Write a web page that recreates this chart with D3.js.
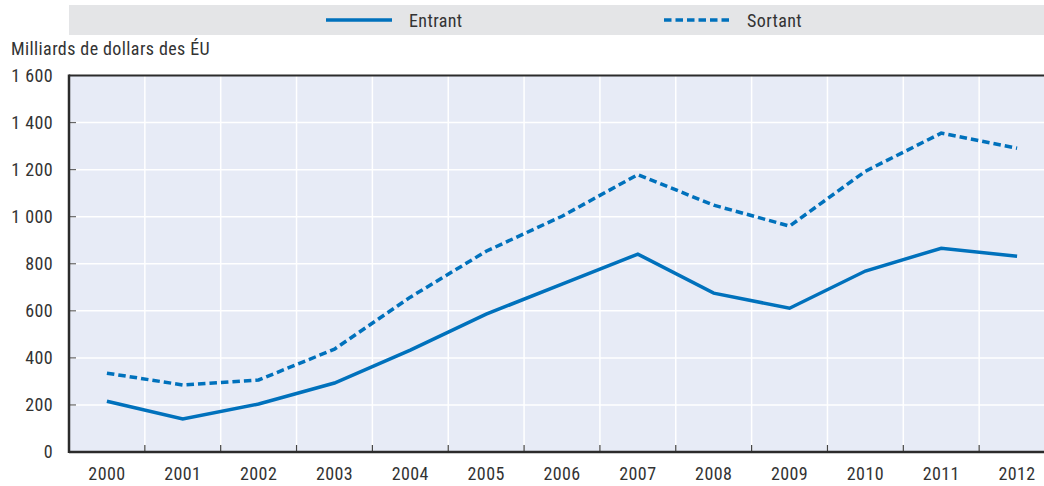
<!DOCTYPE html>
<html><head><meta charset="utf-8">
<script src="https://cdn.jsdelivr.net/npm/d3@7"></script>
<style>
html,body{margin:0;padding:0;background:#fff;}
svg{display:block;font-family:"Liberation Sans Narrow","Arial Narrow","Roboto Condensed","Liberation Sans",sans-serif;}
svg text{letter-spacing:0.4px;}
</style></head><body>
<svg id="chart" width="1044" height="486"></svg>
<script>
const years = ["2000","2001","2002","2003","2004","2005","2006","2007","2008","2009","2010","2011","2012"];
const entrant = [216,140,204,293,433,586,713,841,675,611,769,866,832];
const sortant = [335,285,306,437,658,853,1002,1179,1049,960,1193,1355,1291];
const yTicks = [0,200,400,600,800,1000,1200,1400,1600];
const yTickLabels = ["0","200","400","600","800","1 000","1 200","1 400","1 600"];
const seriesNames = ["Entrant","Sortant"];
const yTitle = "Milliards de dollars des ÉU";

(function(){
const W = 1044;
const pL = 69, pR = 1055, pT = 75.5, pB = 452;
const color = "#0071bc";
const txt = "#333";
const fs = 18;
const svg = d3.select("#chart");

const x = d3.scaleBand().domain(years).range([pL, pR]).padding(0);
const y = d3.scaleLinear().domain([0,1600]).range([pB, pT]);

// legend
svg.append("rect").attr("x",69).attr("y",5).attr("width",W-69).attr("height",30).attr("fill","#e4e5e7");
const legItems = [{name:seriesNames[0], x1:326, dash:null},{name:seriesNames[1], x1:664, dash:"7.5,4"}];
legItems.forEach(d=>{
  svg.append("line").attr("x1",d.x1).attr("x2",d.x1+66).attr("y1",20).attr("y2",20)
    .attr("stroke",color).attr("stroke-width",3.5).attr("stroke-dasharray",d.dash);
  svg.append("text").attr("x",d.x1+83).attr("y",26.5).attr("font-size",fs).attr("fill",txt).text(d.name);
});

// plot background
svg.append("rect").attr("x",pL).attr("y",pT).attr("width",W-pL).attr("height",pB-pT).attr("fill","#e7ebf6");

// horizontal grid
svg.append("g").selectAll("line").data(yTicks.slice(1,-1)).join("line")
  .attr("x1",pL).attr("x2",W).attr("y1",d=>y(d)).attr("y2",d=>y(d))
  .attr("stroke","#fff").attr("stroke-width",1.5);
// vertical grid
svg.append("g").selectAll("line").data(years.slice(1)).join("line")
  .attr("x1",d=>x(d)).attr("x2",d=>x(d)).attr("y1",pT).attr("y2",pB)
  .attr("stroke","#fff").attr("stroke-width",1.5);

// y axis
const yAxis = d3.axisLeft(y).tickValues(yTicks).tickFormat((d,i)=>yTickLabels[i]).tickSize(0).tickPadding(16);
const ga = svg.append("g").attr("transform",`translate(${pL},0)`).call(yAxis);
ga.select(".domain").remove();
ga.attr("font-family",null).attr("font-size",null);
ga.selectAll("text").attr("font-size",fs).attr("fill",txt);
svg.append("g").selectAll("line").data(yTicks.slice(1,-1)).join("line")
  .attr("x1",pL).attr("x2",pL+7).attr("y1",d=>y(d)).attr("y2",d=>y(d))
  .attr("stroke","#666").attr("stroke-width",1.2);

// x axis
const xAxis = d3.axisBottom(x).tickSize(0).tickPadding(15);
const gx = svg.append("g").attr("transform",`translate(0,${pB})`).call(xAxis);
gx.select(".domain").remove();
gx.attr("font-family",null).attr("font-size",null);
gx.selectAll("text").attr("font-size",fs).attr("fill",txt);
svg.append("g").selectAll("line").data(years.slice(1)).join("line")
  .attr("x1",d=>x(d)).attr("x2",d=>x(d)).attr("y1",pB).attr("y2",pB-7)
  .attr("stroke","#444").attr("stroke-width",1.2);

// frame lines
svg.append("line").attr("x1",pL).attr("x2",W).attr("y1",pT).attr("y2",pT).attr("stroke","#2b2b2b").attr("stroke-width",2);
svg.append("line").attr("x1",pL).attr("x2",W).attr("y1",pB).attr("y2",pB).attr("stroke","#2b2b2b").attr("stroke-width",2.5);
svg.append("line").attr("x1",pL).attr("x2",pL).attr("y1",pT-1).attr("y2",pB+1).attr("stroke","#2b2b2b").attr("stroke-width",2.5);

// y title
svg.append("text").attr("x",11).attr("y",55).attr("font-size",fs).attr("fill",txt).text(yTitle);

// lines
const line = d3.line().x((d,i)=>x(years[i])+x.bandwidth()/2).y(d=>y(d));
svg.append("path").datum(entrant).attr("d",line).attr("fill","none").attr("stroke",color).attr("stroke-width",3.5);
svg.append("path").datum(sortant).attr("d",line).attr("fill","none").attr("stroke",color).attr("stroke-width",3.5).attr("stroke-dasharray","7.5,4");
})();
</script>
</body></html>
